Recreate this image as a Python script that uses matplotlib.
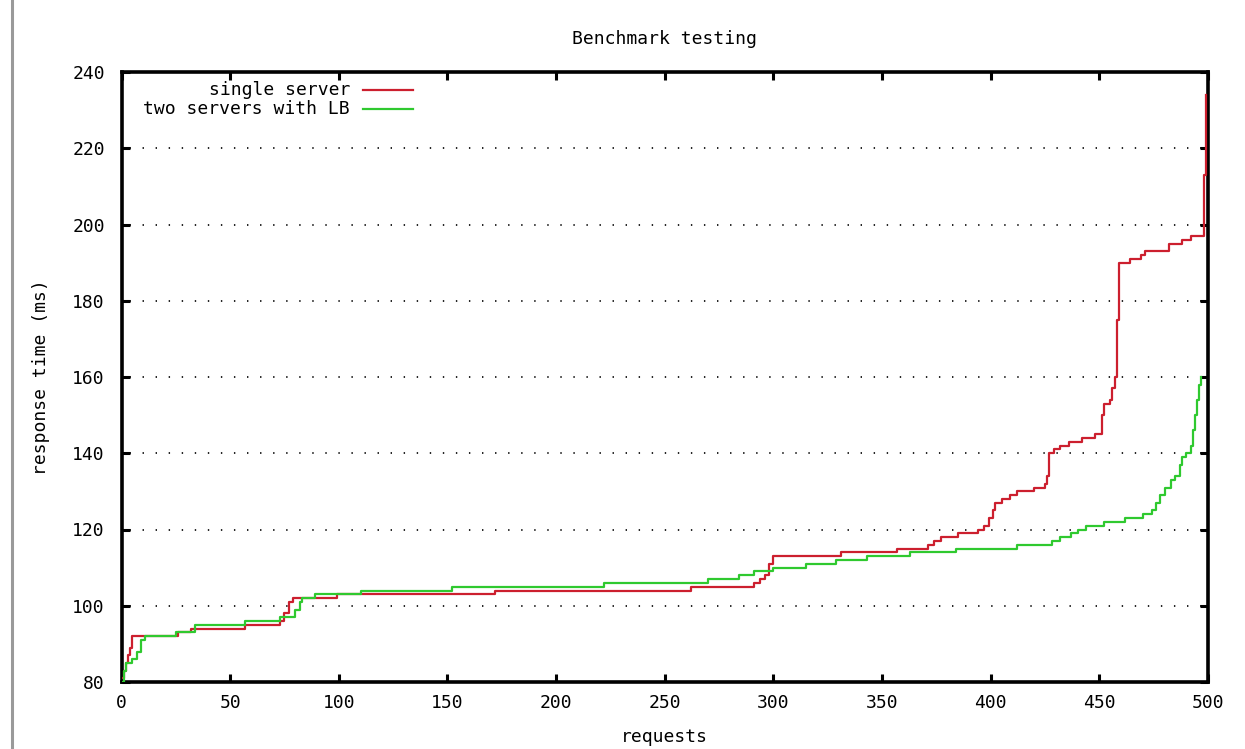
import matplotlib
matplotlib.use("Agg")
import matplotlib.pyplot as plt
from matplotlib.lines import Line2D

# Sorted response times per request, stored as step breakpoints
# (request index where the level starts, response time in ms)
single_x = [0, 1, 2, 3, 4, 5, 26, 32, 57, 73, 75, 77, 79, 99, 172, 262, 291,
            294, 296, 298, 300, 331, 357, 371, 374, 377, 385, 394, 397, 399,
            401, 402, 405, 409, 412, 420, 425, 426, 427, 429, 432, 436, 442,
            448, 451, 452, 455, 456, 457, 458, 459, 464, 469, 471, 482, 488,
            492, 498, 499]
single_ms = [81, 83, 85, 87, 89, 92, 93, 94, 95, 96, 98, 101, 102, 103, 104,
             105, 106, 107, 108, 111, 113, 114, 115, 116, 117, 118, 119, 120,
             121, 123, 125, 127, 128, 129, 130, 131, 132, 134, 140, 141, 142,
             143, 144, 145, 150, 153, 154, 157, 160, 175, 190, 191, 192, 193,
             195, 196, 197, 213, 234]

lb_x = [0, 1, 2, 5, 7, 9, 11, 25, 34, 57, 73, 80, 82, 83, 89, 110, 152, 222,
        270, 284, 291, 300, 315, 329, 343, 363, 384, 412, 428, 432, 437, 440,
        444, 452, 462, 470, 474, 476, 478, 480, 483, 485, 487, 488, 490, 492,
        493, 494, 495, 496, 497]
lb_ms = [80, 83, 85, 86, 88, 91, 92, 93, 95, 96, 97, 99, 101, 102, 103, 104,
         105, 106, 107, 108, 109, 110, 111, 112, 113, 114, 115, 116, 117, 118,
         119, 120, 121, 122, 123, 124, 125, 127, 129, 131, 133, 134, 137, 139,
         140, 142, 146, 150, 154, 158, 160]

series_labels = ["single server", "two servers with LB"]
series_colors = ["#cc1f2e", "#2fc92f"]

x_ticks = list(range(0, 501, 50))
y_ticks = list(range(80, 241, 20))

plt.rcParams["font.family"] = ["DejaVu Sans Mono"]
plt.rcParams["lines.scale_dashes"] = False
FS = 13

W, H = 1245, 749
fig = plt.figure(figsize=(W / 100, H / 100), dpi=100)
L, R, T, B = 121.5, 1208, 72, 682
ax = fig.add_axes([L / W, 1 - B / H, (R - L) / W, (B - T) / H])

ax.set_xlim(0, 500)
ax.set_ylim(80, 240)

# horizontal dotted grid at inner y ticks
for yv in y_ticks[1:-1]:
    ax.axhline(yv, color="#222222", lw=1.4, linestyle=(4, (1.0, 8.4)), zorder=1)

for xs, ys, c in [(single_x, single_ms, series_colors[0]),
                  (lb_x, lb_ms, series_colors[1])]:
    ax.plot(xs, ys, drawstyle="steps-post", color=c, lw=1.6, zorder=3)

ax.set_xticks(x_ticks)
ax.set_yticks(y_ticks)
ax.tick_params(direction="in", length=6, width=2.2, top=True, right=True,
               labelsize=FS, colors="black")
ax.tick_params(axis="y", pad=12)
ax.tick_params(axis="x", pad=9)
for s in ax.spines.values():
    s.set_linewidth(2.6)
    s.set_color("black")

ax.set_title("Benchmark testing", fontsize=FS, pad=20)
ax.set_xlabel("requests", fontsize=FS, labelpad=11)
ax.set_ylabel("response time (ms)", fontsize=FS, labelpad=16)

# key in the upper left: right-aligned labels followed by line samples
key_rows = [90, 109]
for lab, c, yp in zip(series_labels, series_colors, key_rows):
    fy = (B - yp) / (B - T)
    ax.text((350 - L) / (R - L), fy, lab, transform=ax.transAxes,
            ha="right", va="center", fontsize=FS)
    ax.add_line(Line2D([(363 - L) / (R - L), (413 - L) / (R - L)], [fy, fy],
                       transform=ax.transAxes, color=c, lw=1.6))

# thin gray bar along the left edge of the window
fig.add_artist(Line2D([12 / W, 12 / W], [0, 1], transform=fig.transFigure,
                      color="#9a9a9a", lw=2.2))

fig.savefig("out.png", dpi=100)
